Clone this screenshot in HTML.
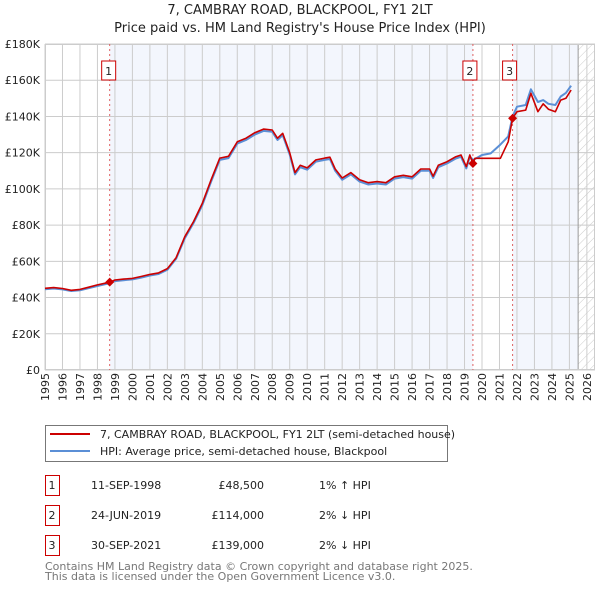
<!DOCTYPE html>
<html><head><meta charset="utf-8"><style>
body{margin:0;background:#fff;font-family:"DejaVu Sans","Liberation Sans",sans-serif;}
svg{display:block}
</style></head><body>
<svg id="chart" width="600" height="590" xmlns="http://www.w3.org/2000/svg" font-family="DejaVu Sans, Liberation Sans, sans-serif">
<defs><pattern id="hatch" width="6" height="6" patternUnits="userSpaceOnUse" patternTransform="rotate(45)"><line x1="0" y1="0" x2="0" y2="6" stroke="#ccc" stroke-width="1"/></pattern></defs>
<text x="300" y="14" text-anchor="middle" font-size="13" fill="#222">7, CAMBRAY ROAD, BLACKPOOL, FY1 2LT</text>
<text x="300" y="32" text-anchor="middle" font-size="13" fill="#222">Price paid vs. HM Land Registry's House Price Index (HPI)</text>
<g id="plot"></g>
<g>
<rect x="45.5" y="425.5" width="402" height="36" fill="#fff" stroke="#777"/>
<line x1="50" y1="434" x2="90" y2="434" stroke="#cc0000" stroke-width="2"/>
<text x="100" y="438" font-size="11" fill="#222">7, CAMBRAY ROAD, BLACKPOOL, FY1 2LT (semi-detached house)</text>
<line x1="50" y1="451" x2="90" y2="451" stroke="#5b8fd6" stroke-width="2"/>
<text x="100" y="455" font-size="11" fill="#222">HPI: Average price, semi-detached house, Blackpool</text>
</g>
<g id="table" font-size="11" fill="#222"></g>
<text x="45" y="570" font-size="11" fill="#777">Contains HM Land Registry data © Crown copyright and database right 2025.</text>
<text x="45" y="580" font-size="11" fill="#777">This data is licensed under the Open Government Licence v3.0.</text>
</svg>
<script>
const hpiYears=[1995,1995.5,1996,1996.5,1997,1997.5,1998,1998.7,1999,1999.5,2000,2000.5,2001,2001.5,2002,2002.5,2003,2003.5,2004,2004.5,2005,2005.5,2006,2006.5,2007,2007.5,2008,2008.3,2008.6,2009,2009.3,2009.6,2010,2010.5,2011,2011.3,2011.6,2012,2012.5,2013,2013.5,2014,2014.5,2015,2015.5,2016,2016.5,2017,2017.2,2017.5,2018,2018.5,2018.8,2019.1,2019.3,2019.5,2020,2020.5,2021,2021.5,2021.75,2022,2022.5,2022.8,2023.2,2023.5,2023.8,2024.2,2024.5,2024.8,2025.1];
const hpiValues=[44.6,45,44.5,43.6,44,45.2,46.4,47.9,49.1,49.6,50,51,52.2,53,55.4,61.4,72.8,81.2,91,104,116,117,125,127,130,132,131.5,127,129.7,119,108,112,110.6,115,116,116.5,110,105,108,104,102.4,103,102.4,105.7,106.5,105.7,110,110,106,112,114,116.8,117.7,111.3,117.7,116,118.7,119.6,124,129,140,145.4,146.3,155,148,149,147,146.3,151,153,157];
const priceYears=[1995,1995.5,1996,1996.5,1997,1997.5,1998,1998.7,1999,1999.5,2000,2000.5,2001,2001.5,2002,2002.5,2003,2003.5,2004,2004.5,2005,2005.5,2006,2006.5,2007,2007.5,2008,2008.3,2008.6,2009,2009.3,2009.6,2010,2010.5,2011,2011.3,2011.6,2012,2012.5,2013,2013.5,2014,2014.5,2015,2015.5,2016,2016.5,2017,2017.2,2017.5,2018,2018.5,2018.8,2019.1,2019.3,2019.48,2019.6,2021.05,2021.5,2021.75,2022,2022.5,2022.8,2023.2,2023.5,2023.8,2024.2,2024.5,2024.8,2025.1];
const priceValues=[45.1,45.5,45,44,44.5,45.7,47,48.5,49.7,50.2,50.6,51.6,52.8,53.6,56,62,73.6,82,92,105,117,118,126,128,131,133,132.5,128,130.7,120,109,113,111.6,116,117,117.5,111,106,109,105,103.4,104,103.4,106.7,107.5,106.7,111,111,107,113,115,117.8,118.7,112.3,118.7,114,116.9,116.9,126,139,142.6,143.5,152.8,142.6,147,144,142.6,149,150,154.6];
const saleLabels=["1","2","3"];
const saleYears=[1998.7,2019.48,2021.75];
const saleValues=[48.5,114,139];
const saleDates=["11-SEP-1998","24-JUN-2019","30-SEP-2021"];
const salePrices=["£48,500","£114,000","£139,000"];
const saleDiffs=["1% ↑ HPI","2% ↓ HPI","2% ↓ HPI"];
const yTicks=[0,20,40,60,80,100,120,140,160,180];
const yTickLabels=["£0","£20K","£40K","£60K","£80K","£100K","£120K","£140K","£160K","£180K"];
const xTicks=[1995,1996,1997,1998,1999,2000,2001,2002,2003,2004,2005,2006,2007,2008,2009,2010,2011,2012,2013,2014,2015,2016,2017,2018,2019,2020,2021,2022,2023,2024,2025,2026];

const NS="http://www.w3.org/2000/svg";
const X0=45,X1=595,Y0=44,Y1=370;
const xs=y=>45+(y-1995)*17.48;
const ys=v=>370-v*(326/180);
const plot=document.getElementById('plot');
function mk(tag,attrs,parent){const e=document.createElementNS(NS,tag);for(const k in attrs)e.setAttribute(k,attrs[k]);(parent||plot).appendChild(e);return e;}
let bg=mk('rect',{x:X0,y:Y0,width:X1-X0,height:Y1-Y0,fill:'#fff'});


let sh1=mk('rect',{x:xs(saleYears[0]),y:Y0,width:xs(saleYears[1])-xs(saleYears[0]),height:Y1-Y0,fill:'#f3f6fd'});


let sh2=mk('rect',{x:xs(saleYears[2]),y:Y0,width:xs(2025.5)-xs(saleYears[2]),height:Y1-Y0,fill:'#f3f6fd'});


let ht=mk('rect',{x:xs(2025.5),y:Y0,width:X1-xs(2025.5),height:Y1-Y0,fill:'url(#hatch)'});


yTicks.forEach((t,i)=>{
 const l=mk('line',{x1:X0,x2:X1,y1:ys(t),y2:ys(t),stroke:'#ccc','stroke-width':1});
 
 
 const tx=mk('text',{x:40,y:ys(t)+4,'text-anchor':'end','font-size':11,fill:'#222'});
 tx.textContent=yTickLabels[i];
 
 
});
xTicks.forEach(t=>{
 const l=mk('line',{x1:xs(t),x2:xs(t),y1:Y0,y2:Y1,stroke:'#ccc','stroke-width':1});
 
 
 const px=xs(t)+4,py=373;
 const tx=mk('text',{x:px,y:py,'text-anchor':'end','font-size':11,fill:'#222',transform:`rotate(-90 ${px} ${py})`});
 tx.textContent=t;
 
 
});
let vl=mk('line',{x1:xs(2025.5),x2:xs(2025.5),y1:Y0,y2:Y1,stroke:'#999','stroke-width':1});


let fr=mk('rect',{x:X0+0.5,y:Y0+0.5,width:X1-X0-1,height:Y1-Y0-1,fill:'none',stroke:'#ccc'});


saleYears.forEach((y,i)=>{
 const l=mk('line',{x1:xs(y),x2:xs(y),y1:Y0,y2:Y1,stroke:'#e06060','stroke-width':1,'stroke-dasharray':'2,3'});
 
 
});
function pathOf(xa,va){return xa.map((x,i)=>(i?'L':'M')+xs(x).toFixed(1)+','+ys(va[i]).toFixed(1)).join('');}
let hp=mk('path',{d:pathOf(hpiYears,hpiValues),fill:'none',stroke:'#5b8fd6','stroke-width':2,'stroke-linejoin':'round'});


let pp=mk('path',{d:pathOf(priceYears,priceValues),fill:'none',stroke:'#cc0000','stroke-width':1.6,'stroke-linejoin':'round'});


saleYears.forEach((y,i)=>{
 const cx=xs(y),cy=ys(saleValues[i]);
 const d=mk('path',{d:`M${cx},${cy-4.5}L${cx+4.5},${cy}L${cx},${cy+4.5}L${cx-4.5},${cy}Z`,fill:'#cc0000'});
 
 
 const bx=cx-(i==0?1:3);
 const r=mk('rect',{x:bx-7,y:61,width:14,height:19,fill:'#fff',stroke:'#cc0000'});
 
 
 const t=mk('text',{x:bx,y:75,'text-anchor':'middle','font-size':11,fill:'#222'});
 t.textContent=saleLabels[i];
 
 
});
const tb=document.getElementById('table');
saleLabels.forEach((s,i)=>{
 const y=475+i*30;
 const r=mk('rect',{x:45.5,y:y+0.5,width:14,height:20,fill:'none',stroke:'#cc0000'},tb);
 
 
 const vals=[[52,s,'middle'],[91,saleDates[i],'start'],[264,salePrices[i],'end'],[319,saleDiffs[i],'start']];
 vals.forEach(v=>{
  const t=mk('text',{x:v[0],y:y+14,'text-anchor':v[2],'font-size':11,fill:'#222'},tb);
  t.textContent=v[1];
  
  
 });
});
</script>
</body></html>
